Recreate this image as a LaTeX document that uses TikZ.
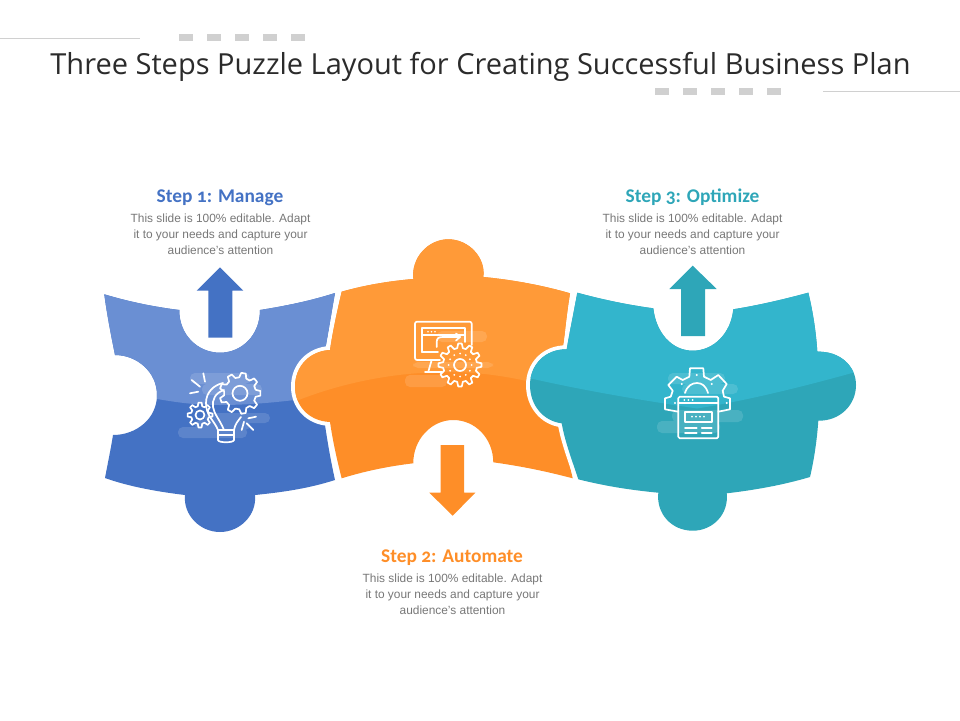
\documentclass[tikz,border=0pt]{standalone}
\usepackage{fontspec}
\setmainfont{Liberation Sans}
\newfontfamily\titlefont{Open Sans}
\newfontfamily\headfont[Numbers=OldStyle]{Carlito}
\usepackage{tikz}

\definecolor{bluelight}{HTML}{6A8FD3}
\definecolor{bluedark}{HTML}{4472C4}
\definecolor{orangelight}{HTML}{FF9A38}
\definecolor{orangedark}{HTML}{FE8E28}
\definecolor{teallight}{HTML}{33B5CC}
\definecolor{tealdark}{HTML}{2EA6B8}
\definecolor{rulegray}{HTML}{D0D0D0}
\definecolor{bodygray}{HTML}{777777}
\definecolor{titleink}{HTML}{2B2B2B}

\tikzset{
    steptitle/.style={anchor=base, font=\headfont\bfseries\fontsize{19.4}{22}\selectfont},
    steptext/.style={font=\fontsize{11.9}{16}\selectfont, text=bodygray, align=center},
    iconline/.style={white, line width=1.7pt, line join=round, line cap=round},
    cloud/.style={white, opacity=0.13, rounded corners=5pt},
    piecegap/.style={preaction={draw=white, line width=8pt, line join=round}}
}

\newcommand{\gearicon}[5]{%
    \begin{scope}[shift={(#1,#2)}]
        \pgfmathsetmacro{\gearstep}{360/#3}
        \draw[iconline] ({-0.32*\gearstep}:#4) \foreach \i in {1,...,#3}{
            -- ({(\i-1.32)*\gearstep}:#4) -- ({(\i-1.16)*\gearstep}:#5)
            -- ({(\i-0.84)*\gearstep}:#5) -- ({(\i-0.68)*\gearstep}:#4)} -- cycle;
    \end{scope}}

\def\bluepiece{(104.3,294.3) .. controls (130,302) and (155,307) .. (179.3,310)
    .. controls (179,335) and (198,352.7) .. (220,352.7)
    .. controls (242,352.7) and (260,335) .. (260,310)
    .. controls (285,306) and (310,301) .. (335,293)
    .. controls (331,315) and (328,335) .. (325,350) -- (325,425)
    .. controls (328,445) and (331,462) .. (335,480)
    .. controls (310,488) and (285,492) .. (255,495)
    .. controls (257,515) and (240,532) .. (220,532)
    .. controls (200,532) and (183,515) .. (185,495)
    .. controls (160,492) and (130,487) .. (105,478)
    .. controls (108,462) and (111,448) .. (113,435)
    .. controls (137,435) and (157,418) .. (157,395)
    .. controls (157,372) and (137,355) .. (115,355)
    .. controls (111,335) and (107,315) .. (104.3,294.3) -- cycle}

\def\orangepiece{(341.7,291.7) .. controls (365,285) and (390,281) .. (413.3,279)
    .. controls (411,258) and (428,239.3) .. (448.3,239.3)
    .. controls (469,239.3) and (486,258) .. (483.3,277)
    .. controls (515,280) and (545,286) .. (570,293.3)
    .. controls (567,312) and (565,330) .. (563.3,346.7) -- (563,425)
    .. controls (565,445) and (569,462) .. (572.7,478.3)
    .. controls (545,471) and (520,466) .. (493.3,462.3)
    .. controls (493,438) and (475,420) .. (453.3,420)
    .. controls (431,420) and (413,440) .. (413.3,463.3)
    .. controls (390,466) and (365,471) .. (341.7,478.3)
    .. controls (337,460) and (333,442) .. (330,422)
    .. controls (308,421) and (295,405) .. (295,386.7)
    .. controls (295,366) and (310,351) .. (330,350)
    .. controls (333,330) and (337,312) .. (341.7,291.7) -- cycle}

\def\tealpiece{(577.3,292.7) .. controls (600,299) and (628,305) .. (653.3,308.3)
    .. controls (656,333) and (672,350.7) .. (692.7,350.7)
    .. controls (714,350.7) and (731,333) .. (733.3,309.3)
    .. controls (760,305) and (785,299) .. (808.3,292.7)
    .. controls (813,312) and (816,332) .. (817.3,351.7)
    .. controls (840,351) and (856,366) .. (856,385)
    .. controls (856,405) and (840,421) .. (818.3,420.7)
    .. controls (817,440) and (814,460) .. (810,477)
    .. controls (783,485) and (755,490) .. (726.7,493.3)
    .. controls (729,514) and (713,530.7) .. (692.7,530.7)
    .. controls (672,530.7) and (656,514) .. (658.3,492.7)
    .. controls (630,490) and (605,486) .. (578.3,479.3)
    .. controls (572,460) and (565,442) .. (561.7,423.3)
    .. controls (543,421) and (530,405) .. (530,385)
    .. controls (530,365) and (545,349) .. (566.7,349.3)
    .. controls (570,330) and (574,311) .. (577.3,292.7) -- cycle}

\begin{document}
\begin{tikzpicture}[x=1pt, y=-1pt]
    \useasboundingbox (0,0) rectangle (960,720);

    % Title
    \node[text=titleink] (title) at (480.5,66.5) {\titlefont\fontsize{29}{36}\selectfont Three Steps Puzzle Layout for Creating Successful Business Plan};
    \draw[rulegray] (0,38.3) -- (140,38.3);
    \draw[rulegray] (823,91) -- (960,91);
    \foreach \x in {179,207,...,291} \fill[rulegray] (\x,34) rectangle (\x+14,40.7);
    \foreach \x in {655,683,...,767} \fill[rulegray] (\x,88.3) rectangle (\x+14,94.7);

    % Blue piece
    \fill[bluedark, piecegap] \bluepiece;
    \begin{scope}
        \clip \bluepiece;
        \fill[bluelight] (90,280) -- (350,280) -- (350,392) .. controls (290,402) and (250,405) .. (220,405) .. controls (190,405) and (165,402) .. (90,385) -- cycle;
    \end{scope}

    % Orange piece
    \fill[orangedark, piecegap] \orangepiece;
    \begin{scope}
        \clip \orangepiece;
        \fill[orangelight] (280,230) -- (580,230) -- (580,395) .. controls (530,380) and (490,372) .. (448,372) .. controls (390,372) and (330,385) .. (280,408) -- cycle;
    \end{scope}

    % Teal piece
    \fill[tealdark, piecegap] \tealpiece;
    \begin{scope}
        \clip \tealpiece;
        \fill[teallight] (520,280) -- (870,280) -- (870,368) .. controls (810,385) and (750,400) .. (697,408.5) .. controls (640,400) and (580,390) .. (520,376) -- cycle;
    \end{scope}

    % Arrows
    \fill[bluedark] (220,267.3) -- (243.3,290.7) -- (232.3,290.7) -- (232.3,337.7) -- (208.3,337.7) -- (208.3,290.7) -- (196.7,290.7) -- cycle;
    \fill[orangedark] (452.7,515.7) -- (475.3,492.7) -- (464,492.7) -- (464,445) -- (440.7,445) -- (440.7,492.7) -- (429.3,492.7) -- cycle;
    \fill[tealdark] (692.7,265.7) -- (716.7,289) -- (705,289) -- (705,336) -- (681,336) -- (681,289) -- (669.3,289) -- cycle;

    % Clouds behind the icons
    \fill[cloud] (190,373) rectangle (250,384) (202,384) rectangle (262,395);
    \fill[cloud] (205,413) rectangle (270,423) (178,427) rectangle (247,438) (195,420) rectangle (250,430);
    \fill[cloud] (437,331) rectangle (487,342);
    \fill[cloud] (413,362) rectangle (493,368);
    \fill[cloud] (405,375) rectangle (447,387);
    \fill[cloud] (668,373) rectangle (725,384) (682,384) rectangle (738,394);
    \fill[cloud] (672,410) rectangle (743,422) (657,421) rectangle (720,433);

    % Bulb and gears
    \gearicon{240}{393.3}{9}{16}{20.5}
    \draw[iconline] (240,393.3) circle [radius=7.5];
    \gearicon{200}{415}{8}{9}{12.5}
    \draw[iconline] (200,415) circle [radius=4.5];
    \draw[iconline] (218,430) .. controls (214,420) and (206,416) .. (206,403) .. controls (206,392) and (214,385) .. (223,383);
    \draw[iconline] (224,390) .. controls (215,393) and (212,400) .. (213,407) .. controls (214,414) and (220,420) .. (224,430);
    \draw[iconline] (234,430) .. controls (235,424) and (238,421) .. (241,417);
    \draw[iconline] (218,430) -- (234,430) -- (234,440) .. controls (234,443) and (218,443) .. (218,440) -- cycle;
    \draw[iconline] (218,435) -- (234,435);
    \draw[iconline] (203.3,373.3) -- (205,381.7);
    \draw[iconline] (191.7,380) -- (200,386.7);
    \draw[iconline] (190,393.3) -- (198.3,391.7);
    \draw[iconline] (248.3,418.3) -- (256,416.7);
    \draw[iconline] (241.7,430) -- (244,421.7);
    \draw[iconline] (246.7,423.3) -- (253.3,430);

    % Monitor and gear
    \draw[iconline, rounded corners=2pt] (440,360) -- (415,360) -- (415,321.7) -- (471.7,321.7) -- (471.7,345);
    \draw[iconline] (421.7,351.7) -- (438,351.7);
    \draw[iconline] (421.7,351.7) -- (421.7,328.3) -- (465,328.3) -- (465,342);
    \draw[iconline] (421.7,335) -- (465,335);
    \foreach \x in {428,431.5,435} \fill[white] (\x,331.7) circle [radius=0.9];
    \draw[iconline] (436.7,347) -- (436.7,342) .. controls (436.7,338) and (439,337) .. (443,337) -- (460,337);
    \draw[iconline] (456,333.5) -- (460,337) -- (456,340.5);
    \draw[iconline] (431.7,360) -- (428.3,371.7);
    \draw[iconline] (425,371.7) -- (441.7,371.7);
    \gearicon{460}{365}{12}{17}{21.5}
    \draw[iconline] (460,365) circle [radius=6];
    \foreach \a in {0,30,...,330} \fill[white] (460,365) ++(\a:11.5) circle [radius=1];

    % Gear and window
    \draw[iconline] (678.3,411.7) -- (665,409.3) -- (665,398.3) -- (670.7,396.7) -- (672.7,390.7) -- (668.3,385) -- (676.7,376.7) -- (682.7,380) -- (689.3,376.7) -- (690,368.3) -- (703.3,368.3) -- (704,376.7) -- (710.7,380) -- (718.3,375) -- (726.7,384) -- (722.7,390.7) -- (724,396.7) -- (730,398.3) -- (730,409.3) -- (718.3,411.7);
    \draw[iconline] (685,393) .. controls (687,386) and (692,383) .. (697,383) .. controls (702,383) and (706,386) .. (708,393);
    \foreach \x/\y in {681.7/384,696.7/375,711.7/384,675/403,726.7/403} \fill[white] (\x,\y) circle [radius=1.1];
    \draw[iconline, rounded corners=1.5pt] (678.3,396.7) rectangle (718.3,438.3);
    \draw[iconline] (678.3,403.3) -- (718.3,403.3);
    \foreach \x in {684.3,688.3,692.5} \fill[white] (\x,400) circle [radius=1];
    \draw[iconline] (685,411.7) rectangle (711.7,421.7);
    \foreach \x in {692,696,700,704} \fill[white] (\x,416.7) circle [radius=1];
    \foreach \y in {428.3,433.3} {
        \draw[iconline] (685,\y) -- (696.7,\y);
        \draw[iconline] (701.7,\y) -- (711.7,\y);
    }

    % Faint rules above the steps
    \shade[left color=white, middle color=black!8, right color=white] (143,172.5) rectangle (290,174);
    \shade[left color=white, middle color=black!8, right color=white] (375,532.5) rectangle (530,534);
    \shade[left color=white, middle color=black!8, right color=white] (615,172.5) rectangle (770,174);

    % Step texts
    \node[steptitle, text=bluedark] (stepone) at (220,202) {Step 1: Manage};
    \node[steptext] (steponetext) at (220.5,234.5) {This slide is 100\% editable. Adapt\\it to your needs and capture your\\audience's attention};
    \node[steptitle, text=orangedark] (steptwo) at (452,562) {Step 2: Automate};
    \node[steptext] (steptwotext) at (452.5,594.5) {This slide is 100\% editable. Adapt\\it to your needs and capture your\\audience's attention};
    \node[steptitle, text=tealdark] (stepthree) at (692.5,202) {Step 3: Optimize};
    \node[steptext] (stepthreetext) at (692.5,234.5) {This slide is 100\% editable. Adapt\\it to your needs and capture your\\audience's attention};
\end{tikzpicture}
\end{document}
